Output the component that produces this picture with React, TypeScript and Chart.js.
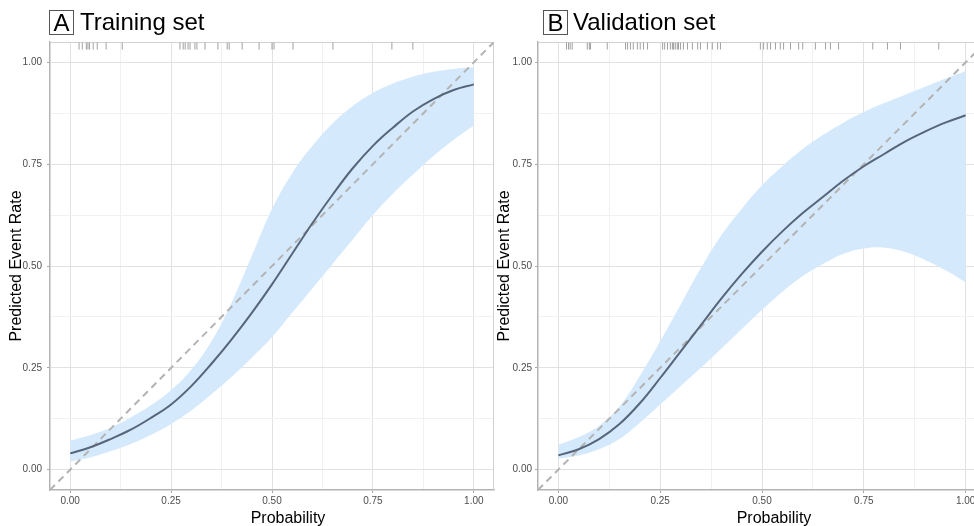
import { useEffect, useRef } from "react";
import { Chart, registerables } from "chart.js";
Chart.register(...registerables);

Chart.defaults.font.family = '"Liberation Sans", Arial, sans-serif';

// grid / tick positions (major + minor)
const GRID_VALUES = [0, 0.125, 0.25, 0.375, 0.5, 0.625, 0.75, 0.875, 1];
const AXIS_RANGE = [-0.05, 1.05];

// probability grid for the curves
const PROB = [0, 0.05, 0.1, 0.15, 0.2, 0.25, 0.3, 0.35, 0.4, 0.45, 0.5, 0.55, 0.6, 0.65, 0.7, 0.75, 0.8, 0.85, 0.9, 0.95, 1];

// Panel A – training set
const LINE_A = [0.040, 0.055, 0.075, 0.098, 0.127, 0.160, 0.205, 0.260, 0.320, 0.385, 0.455, 0.530, 0.605, 0.675, 0.740, 0.795, 0.840, 0.880, 0.910, 0.932, 0.946];
const UPPER_A = [0.071, 0.085, 0.103, 0.128, 0.158, 0.195, 0.245, 0.315, 0.410, 0.525, 0.640, 0.728, 0.795, 0.850, 0.893, 0.925, 0.948, 0.965, 0.977, 0.984, 0.988];
const LOWER_A = [0.020, 0.030, 0.045, 0.063, 0.085, 0.112, 0.145, 0.185, 0.228, 0.275, 0.325, 0.385, 0.445, 0.505, 0.565, 0.625, 0.678, 0.725, 0.770, 0.810, 0.845];
const RUG_A = [0.022, 0.030, 0.040, 0.044, 0.048, 0.057, 0.067, 0.089, 0.129, 0.272, 0.280, 0.285, 0.292, 0.297, 0.309, 0.314, 0.334, 0.366, 0.389, 0.394, 0.426, 0.468, 0.500, 0.505, 0.552, 0.651, 0.797, 0.849];

// Panel B – validation set
const LINE_B = [0.035, 0.050, 0.075, 0.112, 0.163, 0.225, 0.290, 0.355, 0.420, 0.480, 0.535, 0.585, 0.630, 0.670, 0.710, 0.745, 0.775, 0.805, 0.830, 0.852, 0.870];
const UPPER_B = [0.061, 0.080, 0.108, 0.155, 0.230, 0.315, 0.405, 0.495, 0.575, 0.640, 0.698, 0.745, 0.787, 0.822, 0.852, 0.878, 0.900, 0.920, 0.940, 0.960, 0.978];
const LOWER_B = [0.027, 0.035, 0.050, 0.075, 0.115, 0.160, 0.205, 0.250, 0.297, 0.345, 0.392, 0.437, 0.475, 0.505, 0.530, 0.543, 0.545, 0.535, 0.515, 0.490, 0.460];
const RUG_B = [0.020, 0.025, 0.029, 0.034, 0.071, 0.076, 0.079, 0.120, 0.165, 0.170, 0.177, 0.184, 0.194, 0.201, 0.209, 0.219, 0.256, 0.261, 0.268, 0.275, 0.280, 0.283, 0.287, 0.292, 0.295, 0.300, 0.307, 0.317, 0.329, 0.342, 0.349, 0.366, 0.378, 0.391, 0.398, 0.496, 0.504, 0.513, 0.521, 0.533, 0.545, 0.553, 0.570, 0.590, 0.600, 0.631, 0.656, 0.668, 0.688, 0.772, 0.808, 0.840, 0.934];

const RUG_Y = 1.04;

const isMajor = (v: number) => Math.abs(v * 4 - Math.round(v * 4)) < 1e-6;

const panelBorder = {
  id: "panelBorder",
  beforeDatasetsDraw(chart: any) {
    const { ctx, chartArea } = chart;
    const { left, top, right } = chartArea;
    const bottom = chartArea.bottom;
    ctx.save();
    ctx.strokeStyle = "#d2d2d2";
    ctx.lineWidth = 1;
    ctx.beginPath();
    ctx.moveTo(left, top + 0.5);
    ctx.lineTo(right - 0.5, top + 0.5);
    ctx.lineTo(right - 0.5, bottom);
    ctx.stroke();
    ctx.restore();
  },
};

function axisCommon() {
  return {
    type: "linear" as const,
    min: AXIS_RANGE[0],
    max: AXIS_RANGE[1],
    afterBuildTicks: (a: any) => {
      a.ticks = GRID_VALUES.map((value) => ({ value }));
    },
    ticks: {
      callback: (v: any) => (isMajor(Number(v)) ? Number(v).toFixed(2) : ""),
      color: "#4d4d4d",
      font: { size: 10 },
      autoSkip: false,
      maxRotation: 0,
    },
    grid: {
      color: (c: any) => (c.tick && isMajor(c.tick.value) ? "#e2e2e2" : "#f1f1f1"),
      tickColor: (c: any) => (c.tick && isMajor(c.tick.value) ? "#a8a8a8" : "rgba(0,0,0,0)"),
      tickLength: 3,
      lineWidth: 1,
    },
    border: { color: "#b3b3b3", width: 1.5 },
  };
}

type PanelProps = {
  left: number;
  width: number;
  letter: string;
  title: string;
  boxLeft: number;
  titleLeft: number;
  xTitleCenter: number;
  yLabelPad: number;
  line: number[];
  upper: number[];
  lower: number[];
  rug: number[];
};

function Panel(p: PanelProps) {
  const ref = useRef<HTMLCanvasElement | null>(null);
  useEffect(() => {
    if (!ref.current) return;
    const pts = (ys: number[]) => PROB.map((x, i) => ({ x, y: ys[i] }));
    const xAxis: any = axisCommon();
    xAxis.ticks.padding = 2;
    xAxis.afterFit = (a: any) => {
      a.height = 36;
    };
    const yAxis: any = axisCommon();
    yAxis.ticks.padding = p.yLabelPad;
    yAxis.afterFit = (a: any) => {
      a.width = 50;
    };
    yAxis.title = {
      display: true,
      text: "Predicted Event Rate",
      color: "#000",
      font: { size: 16 },
      padding: { top: 7, bottom: 0 },
    };
    const chart = new Chart(ref.current, {
      type: "line",
      data: {
        datasets: [
          {
            label: "calibration",
            data: pts(p.line),
            borderColor: "#56657a",
            borderWidth: 2,
            pointRadius: 0,
            fill: false,
            tension: 0.4,
            order: 0,
          },
          {
            label: "ideal",
            data: AXIS_RANGE.map((v) => ({ x: v, y: v })),
            borderColor: "#b3b3b3",
            borderWidth: 2,
            borderDash: [7, 5],
            pointRadius: 0,
            fill: false,
            order: 1,
          },
          {
            label: "rug",
            data: p.rug.map((x) => ({ x, y: RUG_Y })),
            showLine: false,
            pointStyle: "line",
            pointRotation: 90,
            rotation: 90,
            pointRadius: 3.5,
            pointBorderColor: "#a0a0a0",
            borderColor: "#a0a0a0",
            pointBorderWidth: 1,
            order: 2,
          } as any,
          {
            label: "upper",
            data: pts(p.upper),
            borderColor: "rgba(0,0,0,0)",
            borderWidth: 0,
            pointRadius: 0,
            fill: "+1",
            backgroundColor: "#d5e9fc",
            tension: 0.4,
            order: 3,
          },
          {
            label: "lower",
            data: pts(p.lower),
            borderColor: "rgba(0,0,0,0)",
            borderWidth: 0,
            pointRadius: 0,
            fill: false,
            tension: 0.4,
            order: 4,
          },
        ],
      },
      options: {
        animation: false,
        responsive: false,
        maintainAspectRatio: false,
        devicePixelRatio: 1,
        layout: { padding: { top: 42, left: 0, right: 3, bottom: 0 } },
        plugins: { legend: { display: false }, tooltip: { enabled: false } },
        scales: { x: xAxis, y: yAxis },
      } as any,
      plugins: [panelBorder],
    });
    return () => chart.destroy();
  }, []);

  const font = '"Liberation Sans", Arial, sans-serif';
  return (
    <>
      <canvas
        ref={ref}
        width={p.width}
        height={526}
        style={{ position: "absolute", left: p.left, top: 0, width: p.width, height: 526 }}
      />
      <div
        style={{
          position: "absolute",
          left: p.boxLeft,
          top: 10,
          width: 23,
          height: 23,
          border: "1px solid #555",
          fontFamily: font,
          fontSize: 24,
          lineHeight: "24px",
          textAlign: "center",
          color: "#000",
        }}
      >
        {p.letter}
      </div>
      <div
        style={{
          position: "absolute",
          left: p.titleLeft,
          top: 8,
          fontFamily: font,
          fontSize: 24,
          lineHeight: "27px",
          color: "#000",
          whiteSpace: "nowrap",
        }}
      >
        {p.title}
      </div>
      <div
        style={{
          position: "absolute",
          left: p.xTitleCenter,
          top: 509,
          transform: "translateX(-50%)",
          fontFamily: font,
          fontSize: 16,
          lineHeight: "18px",
          color: "#000",
          whiteSpace: "nowrap",
        }}
      >
        Probability
      </div>
    </>
  );
}

export default function App() {
  return (
    <div
      style={{
        position: "fixed",
        left: 0,
        top: 0,
        width: 974,
        height: 526,
        overflow: "hidden",
        background: "#fff",
      }}
    >
      <Panel
        left={0}
        width={499}
        letter="A"
        title="Training set"
        boxLeft={49}
        titleLeft={80}
        xTitleCenter={288}
        yLabelPad={5}
        line={LINE_A}
        upper={UPPER_A}
        lower={LOWER_A}
        rug={RUG_A}
      />
      <Panel
        left={488}
        width={503}
        letter="B"
        title="Validation set"
        boxLeft={543}
        titleLeft={573}
        xTitleCenter={774}
        yLabelPad={3}
        line={LINE_B}
        upper={UPPER_B}
        lower={LOWER_B}
        rug={RUG_B}
      />
    </div>
  );
}
